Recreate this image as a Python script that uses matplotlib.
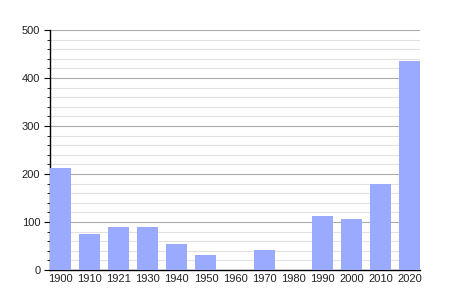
import numpy as np
import matplotlib.pyplot as plt
from matplotlib.ticker import MultipleLocator

plt.rcParams['font.family'] = ['Liberation Sans', 'DejaVu Sans']

years = ['1900', '1910', '1921', '1930', '1940', '1950', '1960',
         '1970', '1980', '1990', '2000', '2010', '2020']
population = [213, 76, 89, 89, 54, 31, 0, 42, 0, 113, 106, 179, 436]

bar_color = '#99aaff'

fig = plt.figure(figsize=(4.5, 3), dpi=100)
ax = fig.add_axes([50 / 450, 30 / 300, 370 / 450, 240 / 300])

x = np.arange(len(years))
ax.bar(x, population, width=0.72, color=bar_color, zorder=3)

ax.set_xlim(-0.36, len(years) - 1 + 0.36)
ax.set_ylim(0, 500)
ax.set_xticks(x)
ax.set_xticklabels(years)
ax.tick_params(axis='x', length=0, pad=3, labelsize=8, labelcolor='#222222')

ax.yaxis.set_major_locator(MultipleLocator(100))
ax.yaxis.set_minor_locator(MultipleLocator(20))
ax.tick_params(axis='y', which='major', length=4, width=0.8, labelsize=8,
               pad=3, labelcolor='#222222')
ax.tick_params(axis='y', which='minor', length=2, width=0.6)

ax.grid(axis='y', which='major', color='#aaaaaa', linewidth=0.8, zorder=0)
ax.grid(axis='y', which='minor', color='#e2e2e2', linewidth=0.8, zorder=0)

for side in ['top', 'right']:
    ax.spines[side].set_visible(False)
ax.spines['left'].set_linewidth(1)
ax.spines['bottom'].set_linewidth(1)

fig.savefig('out.png', dpi=100)
